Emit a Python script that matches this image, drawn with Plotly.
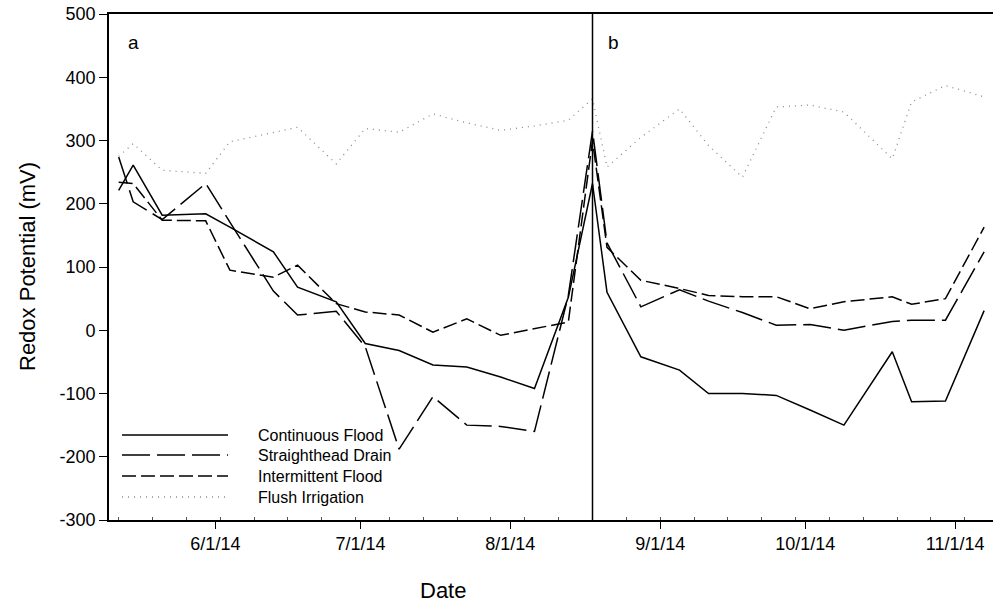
import plotly.graph_objects as go

# ---- data ----
dates = ["2014-05-12", "2014-05-15", "2014-05-21", "2014-05-30", "2014-06-04",
         "2014-06-13", "2014-06-18", "2014-06-26", "2014-07-02", "2014-07-09",
         "2014-07-16", "2014-07-23", "2014-07-30", "2014-08-06", "2014-08-13",
         "2014-08-18", "2014-08-21", "2014-08-28", "2014-09-05", "2014-09-11",
         "2014-09-18", "2014-09-25", "2014-10-02", "2014-10-09", "2014-10-19",
         "2014-10-23", "2014-10-30", "2014-11-07"]

continuous_flood = [221, 261, 182, 184, 163, 124, 68, 45, -21, -32, -55, -58, -74, -92,
                    52, 232, 60, -42, -63, -100, -100, -103, -126, -150, -34, -113, -112, 31]
straighthead_drain = [274, 203, 175, 232, 171, 62, 24, 30, -26, -188, -105, -150, -152, -160,
                      55, 315, 138, 37, 64, 46, 28, 8, 9, 0, 14, 16, 16, 124]
intermittent_flood = [234, 232, 174, 173, 95, 84, 103, 42, 29, 24, -3, 18, -8, 3,
                      13, 300, 131, 79, 66, 55, 53, 53, 34, 45, 53, 41, 50, 163]
flush_irrigation = [275, 295, 253, 248, 298, 313, 321, 263, 319, 313, 342, 328, 316, 323,
                    332, 366, 258, 305, 350, 292, 242, 353, 356, 345, 271, 361, 387, 369]

series_names = ["Continuous Flood", "Straighthead Drain", "Intermittent Flood", "Flush Irrigation"]
tick_dates = ["2014-06-01", "2014-07-01", "2014-08-01", "2014-09-01", "2014-10-01", "2014-11-01"]
tick_labels = ["6/1/14", "7/1/14", "8/1/14", "9/1/14", "10/1/14", "11/1/14"]
split_date = "2014-08-18"
y_ticks = [-300, -200, -100, 0, 100, 200, 300, 400, 500]
y_tick_labels = ["-300", "-200", "-100", "0", "100", "200", "300", "400", "500"]

# ---- styles ----
FONT = "Arial, Liberation Sans, sans-serif"
styles = [
    dict(color="black", width=1.5, dash="solid"),
    dict(color="black", width=1.5, dash="28px,7px"),
    dict(color="black", width=1.5, dash="14px,5px"),
    dict(color="#8a8a8a", width=1.3, dash="1px,5px"),
]
values = [continuous_flood, straighthead_drain, intermittent_flood, flush_irrigation]

W, H = 993, 606
L, R, T, B = 109, 0, 14, 86
PW, PH = W - L - R, H - T - B


def px(xp):
    return (xp - L) / PW


def py(yp):
    return (H - B - yp) / PH


fig = go.Figure()
for name, vals, st in zip(series_names, values, styles):
    fig.add_trace(go.Scatter(x=dates, y=vals, mode="lines", name=name,
                             line=st, showlegend=False))

# vertical separator
fig.add_shape(type="line", xref="x", yref="paper", x0=split_date, x1=split_date,
              y0=0, y1=1, line=dict(color="black", width=1.5))

# custom legend (long line samples as in the reference)
leg_y = [435, 455, 476, 497]
for name, st, yy in zip(series_names, styles, leg_y):
    fig.add_shape(type="line", xref="paper", yref="paper",
                  x0=px(122), x1=px(228), y0=py(yy), y1=py(yy), line=st)
    fig.add_annotation(xref="paper", yref="paper", x=px(256), y=py(yy), text=name,
                       showarrow=False, xanchor="left", yanchor="middle",
                       font=dict(family=FONT, size=16, color="black"))

# panel letters
fig.add_annotation(xref="paper", yref="paper", x=px(133), y=py(42), text="a",
                   showarrow=False, xanchor="center", yanchor="middle",
                   font=dict(family=FONT, size=19, color="black"))
fig.add_annotation(xref="paper", yref="paper", x=px(613), y=py(42), text="b",
                   showarrow=False, xanchor="center", yanchor="middle",
                   font=dict(family=FONT, size=19, color="black"))

# axis titles
fig.add_annotation(xref="paper", yref="paper", x=px(443), y=py(590), text="Date",
                   showarrow=False, xanchor="center", yanchor="middle",
                   font=dict(family=FONT, size=22, color="black"))
fig.add_annotation(xref="paper", yref="paper", x=px(27), y=py(267), text="Redox Potential (mV)",
                   showarrow=False, xanchor="center", yanchor="middle", textangle=-90,
                   font=dict(family=FONT, size=22, color="black"))

fig.update_layout(
    width=W, height=H,
    margin=dict(l=L, r=R, t=T, b=B, pad=0),
    paper_bgcolor="white", plot_bgcolor="white",
    font=dict(family=FONT, size=18, color="black"),
    xaxis=dict(
        type="date", range=["2014-05-10", "2014-11-08 20:00"],
        tickmode="array", tickvals=tick_dates, ticktext=tick_labels,
        ticks="outside", ticklen=7, tickwidth=1.2, tickcolor="black",
        showline=True, linecolor="black", linewidth=1.6, mirror=True,
        showgrid=False, zeroline=False,
        tickfont=dict(family=FONT, size=18, color="black"),
        minor=dict(ticks="inside", ticklen=3, tickwidth=1, tickcolor="#555",
                   dtick=7 * 86400000, tick0="2014-05-12", showgrid=False),
    ),
    yaxis=dict(
        range=[-300, 500], tickmode="array", tickvals=y_ticks, ticktext=y_tick_labels,
        ticks="outside", ticklen=8, tickwidth=1.2, tickcolor="black",
        showline=True, linecolor="black", linewidth=1.6,
        showgrid=False, zeroline=False,
        tickfont=dict(family=FONT, size=18, color="black"),
    ),
)

fig.write_html("out.html")
